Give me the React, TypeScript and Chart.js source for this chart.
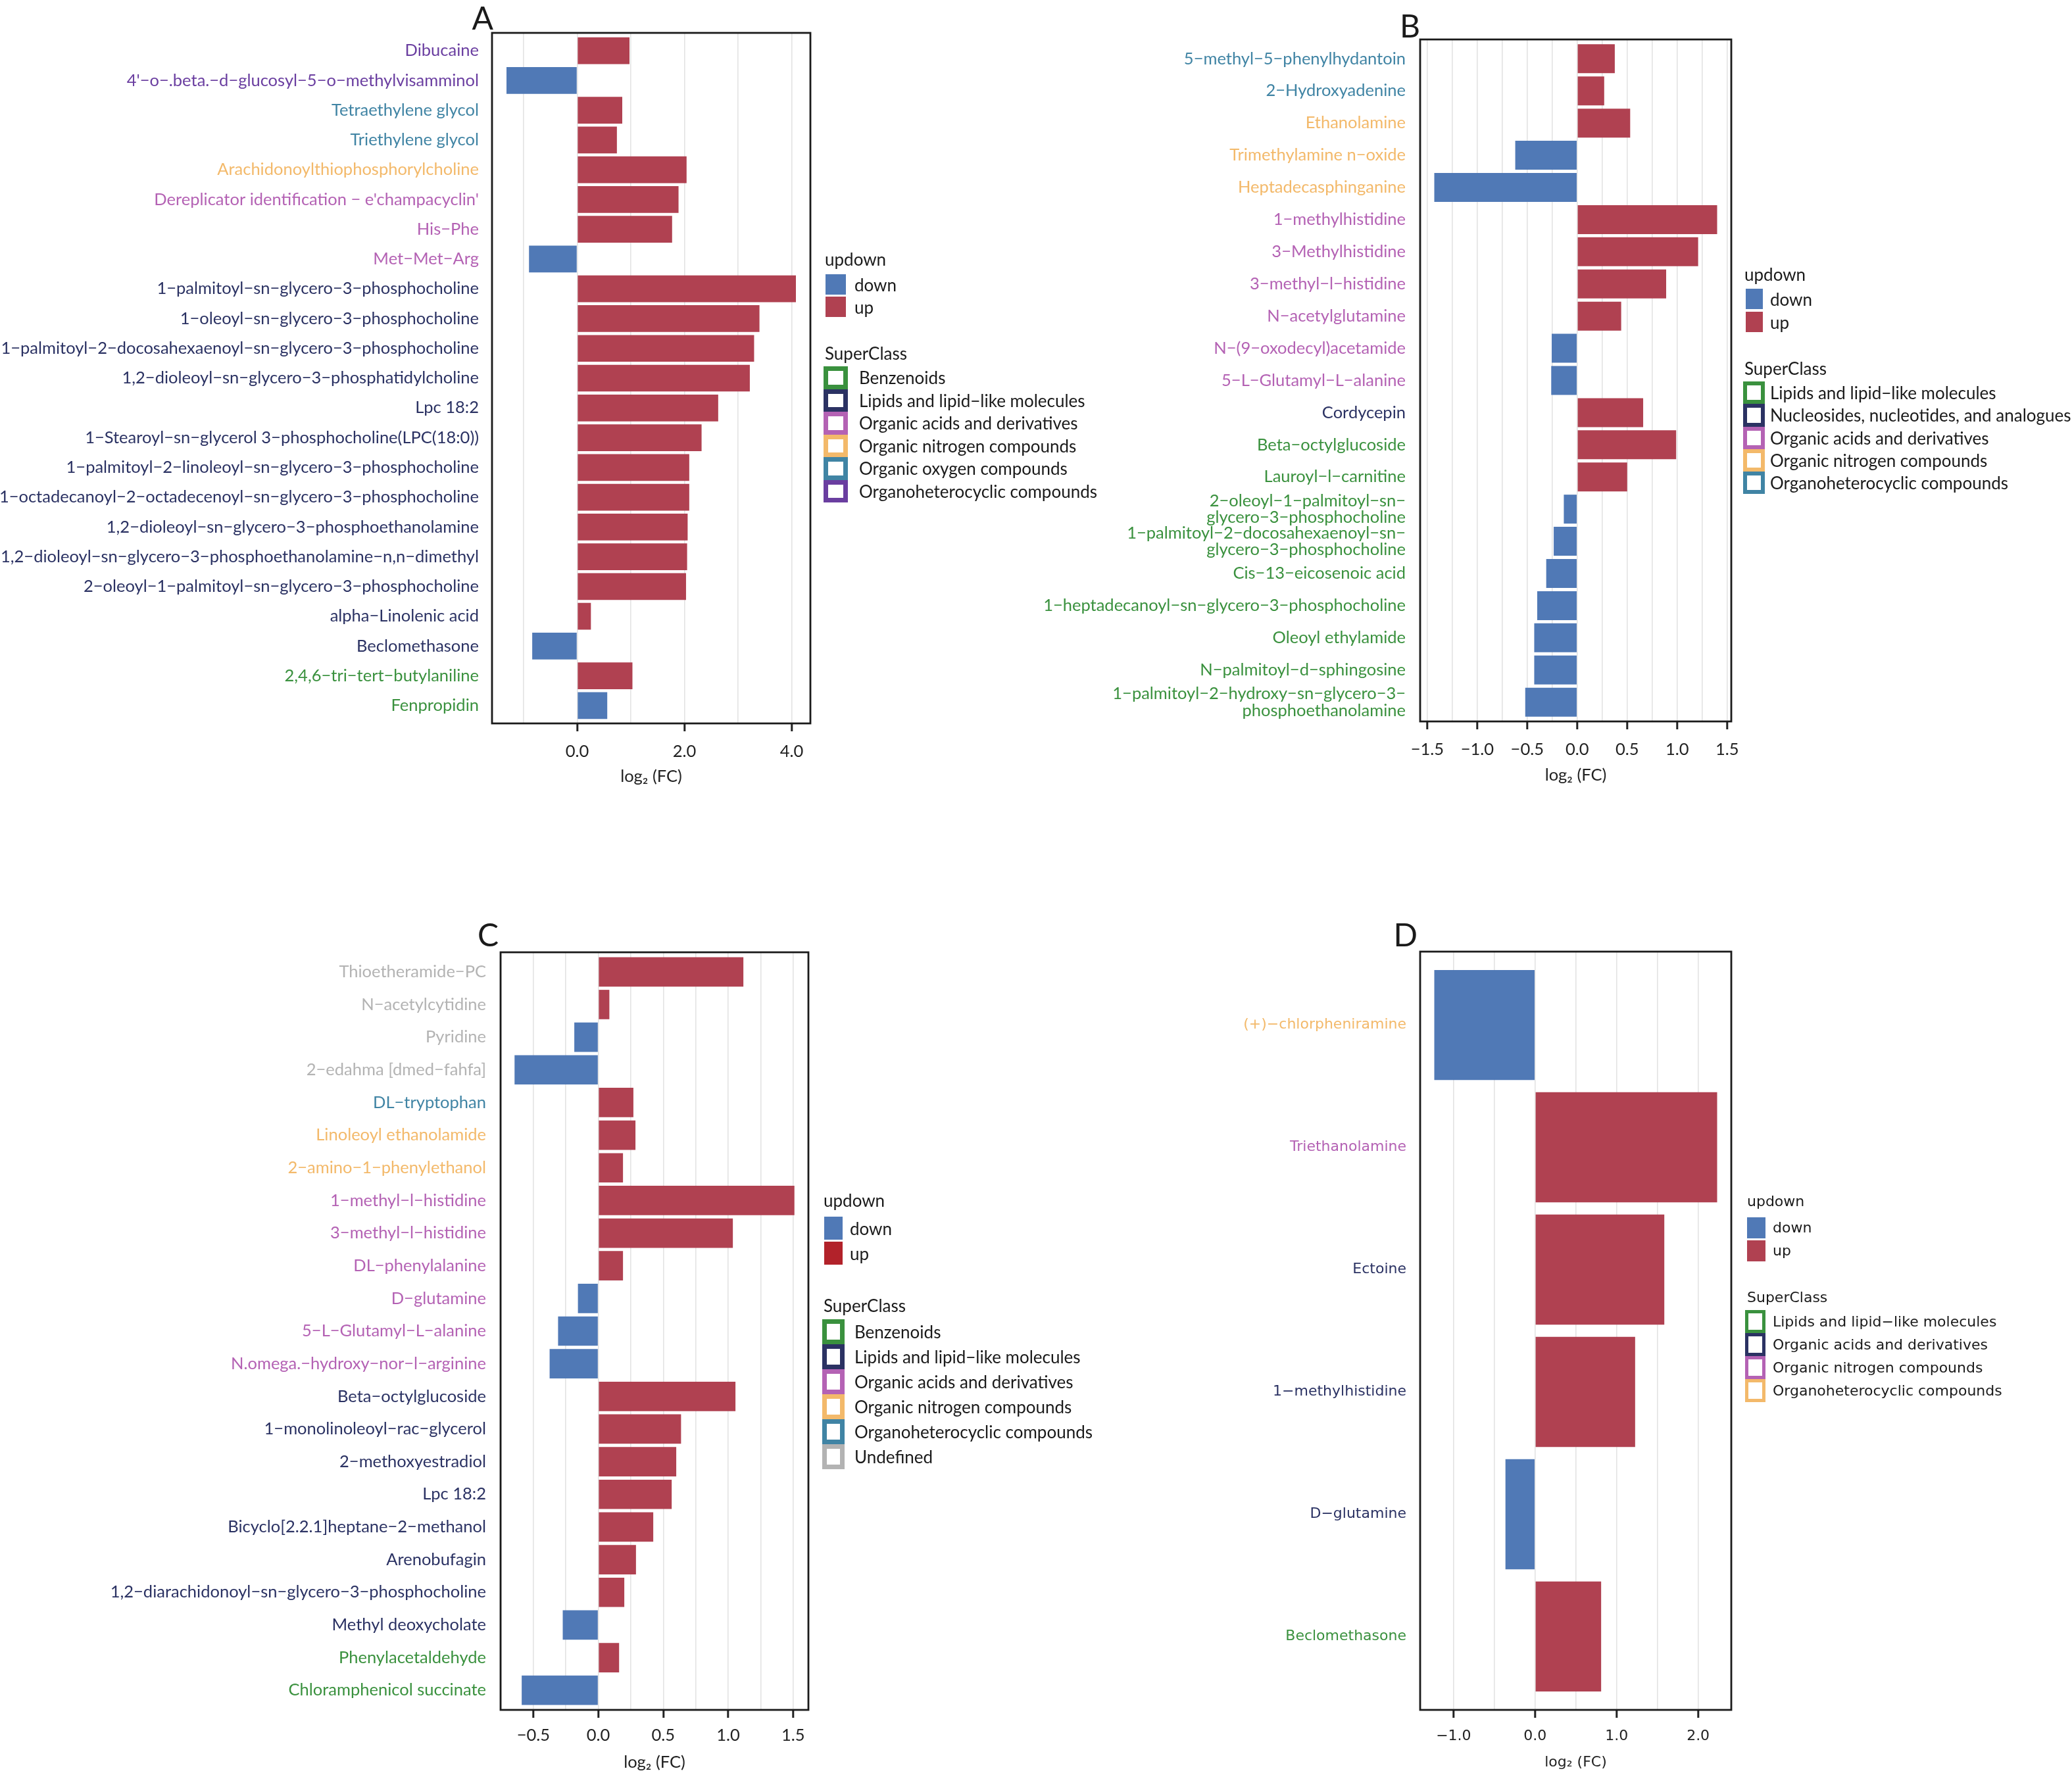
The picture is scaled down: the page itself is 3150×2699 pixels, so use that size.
import React, { useEffect, useRef } from "react";
import { Chart, registerables } from "chart.js";
Chart.register(...registerables);

const UP = "#B04151";
const DOWN = "#5079B6";
const UP_C = "#B2222A";
const GREEN = "#3A913E";
const NAVY = "#2B3263";
const PINK = "#B462B4";
const ORANGE = "#F3B96A";
const TEAL = "#4084A4";
const PURPLE = "#6A3EA0";
const GRAY = "#B3B3B3";

const LATO = "Lato, 'Noto Sans', sans-serif";
const DEJAVU = "'DejaVu Sans', Verdana, sans-serif";

const classNames: Record<string, string> = {
  Benz: "Benzenoids",
  Lipid: "Lipids and lipid\u2212like molecules",
  Nucl: "Nucleosides, nucleotides, and analogues",
  Acid: "Organic acids and derivatives",
  Nitro: "Organic nitrogen compounds",
  Oxy: "Organic oxygen compounds",
  Het: "Organoheterocyclic compounds",
  Undef: "Undefined",
};

// ---------------- Panel A ----------------
const labelsA: (string | string[])[] = [
  "Dibucaine",
  "4'\u2212o\u2212.beta.\u2212d\u2212glucosyl\u22125\u2212o\u2212methylvisamminol",
  "Tetraethylene glycol",
  "Triethylene glycol",
  "Arachidonoylthiophosphorylcholine",
  "Dereplicator identification \u2212 e'champacyclin'",
  "His\u2212Phe",
  "Met\u2212Met\u2212Arg",
  "1\u2212palmitoyl\u2212sn\u2212glycero\u22123\u2212phosphocholine",
  "1\u2212oleoyl\u2212sn\u2212glycero\u22123\u2212phosphocholine",
  "1\u2212palmitoyl\u22122\u2212docosahexaenoyl\u2212sn\u2212glycero\u22123\u2212phosphocholine",
  "1,2\u2212dioleoyl\u2212sn\u2212glycero\u22123\u2212phosphatidylcholine",
  "Lpc 18:2",
  "1\u2212Stearoyl\u2212sn\u2212glycerol 3\u2212phosphocholine(LPC(18:0))",
  "1\u2212palmitoyl\u22122\u2212linoleoyl\u2212sn\u2212glycero\u22123\u2212phosphocholine",
  "1\u2212octadecanoyl\u22122\u2212octadecenoyl\u2212sn\u2212glycero\u22123\u2212phosphocholine",
  "1,2\u2212dioleoyl\u2212sn\u2212glycero\u22123\u2212phosphoethanolamine",
  "1,2\u2212dioleoyl\u2212sn\u2212glycero\u22123\u2212phosphoethanolamine\u2212n,n\u2212dimethyl",
  "2\u2212oleoyl\u22121\u2212palmitoyl\u2212sn\u2212glycero\u22123\u2212phosphocholine",
  "alpha\u2212Linolenic acid",
  "Beclomethasone",
  "2,4,6\u2212tri\u2212tert\u2212butylaniline",
  "Fenpropidin",
];
const valuesA = [0.975, -1.32, 0.84, 0.74, 2.04, 1.89, 1.77, -0.9, 4.08, 3.4, 3.3, 3.22, 2.63, 2.32, 2.09, 2.09, 2.06, 2.05, 2.03, 0.255, -0.84, 1.03, 0.56];
const updownA = ["up", "down", "up", "up", "up", "up", "up", "down", "up", "up", "up", "up", "up", "up", "up", "up", "up", "up", "up", "up", "down", "up", "down"];
const classA = ["Het", "Het", "Oxy", "Oxy", "Nitro", "Acid", "Acid", "Acid", "Lipid", "Lipid", "Lipid", "Lipid", "Lipid", "Lipid", "Lipid", "Lipid", "Lipid", "Lipid", "Lipid", "Lipid", "Lipid", "Benz", "Benz"];
const xTicksA = [0, 2, 4];
const legendOrderA = ["Benz", "Lipid", "Acid", "Nitro", "Oxy", "Het"];

// ---------------- Panel B ----------------
const labelsB: (string | string[])[] = [
  "5\u2212methyl\u22125\u2212phenylhydantoin",
  "2\u2212Hydroxyadenine",
  "Ethanolamine",
  "Trimethylamine n\u2212oxide",
  "Heptadecasphinganine",
  "1\u2212methylhistidine",
  "3\u2212Methylhistidine",
  "3\u2212methyl\u2212l\u2212histidine",
  "N\u2212acetylglutamine",
  "N\u2212(9\u2212oxodecyl)acetamide",
  "5\u2212L\u2212Glutamyl\u2212L\u2212alanine",
  "Cordycepin",
  "Beta\u2212octylglucoside",
  "Lauroyl\u2212l\u2212carnitine",
  ["2\u2212oleoyl\u22121\u2212palmitoyl\u2212sn\u2212", "glycero\u22123\u2212phosphocholine"],
  ["1\u2212palmitoyl\u22122\u2212docosahexaenoyl\u2212sn\u2212", "glycero\u22123\u2212phosphocholine"],
  "Cis\u221213\u2212eicosenoic acid",
  "1\u2212heptadecanoyl\u2212sn\u2212glycero\u22123\u2212phosphocholine",
  "Oleoyl ethylamide",
  "N\u2212palmitoyl\u2212d\u2212sphingosine",
  ["1\u2212palmitoyl\u22122\u2212hydroxy\u2212sn\u2212glycero\u22123\u2212", "phosphoethanolamine"],
];
const valuesB = [0.376, 0.27, 0.53, -0.62, -1.43, 1.4, 1.21, 0.89, 0.44, -0.255, -0.26, 0.66, 0.99, 0.5, -0.134, -0.235, -0.31, -0.4, -0.43, -0.43, -0.52];
const updownB = ["up", "up", "up", "down", "down", "up", "up", "up", "up", "down", "down", "up", "up", "up", "down", "down", "down", "down", "down", "down", "down"];
const classB = ["Het", "Het", "Nitro", "Nitro", "Nitro", "Acid", "Acid", "Acid", "Acid", "Acid", "Acid", "Nucl", "Lipid", "Lipid", "Lipid", "Lipid", "Lipid", "Lipid", "Lipid", "Lipid", "Lipid"];
const xTicksB = [-1.5, -1.0, -0.5, 0, 0.5, 1.0, 1.5];
const legendOrderB = ["Lipid", "Nucl", "Acid", "Nitro", "Het"];

// ---------------- Panel C ----------------
const labelsC: (string | string[])[] = [
  "Thioetheramide\u2212PC",
  "N\u2212acetylcytidine",
  "Pyridine",
  "2\u2212edahma [dmed\u2212fahfa]",
  "DL\u2212tryptophan",
  "Linoleoyl ethanolamide",
  "2\u2212amino\u22121\u2212phenylethanol",
  "1\u2212methyl\u2212l\u2212histidine",
  "3\u2212methyl\u2212l\u2212histidine",
  "DL\u2212phenylalanine",
  "D\u2212glutamine",
  "5\u2212L\u2212Glutamyl\u2212L\u2212alanine",
  "N.omega.\u2212hydroxy\u2212nor\u2212l\u2212arginine",
  "Beta\u2212octylglucoside",
  "1\u2212monolinoleoyl\u2212rac\u2212glycerol",
  "2\u2212methoxyestradiol",
  "Lpc 18:2",
  "Bicyclo[2.2.1]heptane\u22122\u2212methanol",
  "Arenobufagin",
  "1,2\u2212diarachidonoyl\u2212sn\u2212glycero\u22123\u2212phosphocholine",
  "Methyl deoxycholate",
  "Phenylacetaldehyde",
  "Chloramphenicol succinate",
];
const valuesC = [1.117, 0.085, -0.185, -0.645, 0.27, 0.286, 0.19, 1.51, 1.036, 0.19, -0.157, -0.31, -0.375, 1.056, 0.637, 0.6, 0.565, 0.423, 0.29, 0.2, -0.274, 0.16, -0.59];
const updownC = ["up", "up", "down", "down", "up", "up", "up", "up", "up", "up", "down", "down", "down", "up", "up", "up", "up", "up", "up", "up", "down", "up", "down"];
const classC = ["Undef", "Undef", "Undef", "Undef", "Het", "Nitro", "Nitro", "Acid", "Acid", "Acid", "Acid", "Acid", "Acid", "Lipid", "Lipid", "Lipid", "Lipid", "Lipid", "Lipid", "Lipid", "Lipid", "Benz", "Benz"];
const xTicksC = [-0.5, 0, 0.5, 1.0, 1.5];
const legendOrderC = ["Benz", "Lipid", "Acid", "Nitro", "Het", "Undef"];

// ---------------- Panel D ----------------
const labelsD: (string | string[])[] = [
  "(+)\u2212chlorpheniramine",
  "Triethanolamine",
  "Ectoine",
  "1\u2212methylhistidine",
  "D\u2212glutamine",
  "Beclomethasone",
];
const valuesD = [-1.237, 2.233, 1.585, 1.227, -0.364, 0.81];
const updownD = ["down", "up", "up", "up", "down", "up"];
const classD = ["Het", "Nitro", "Acid", "Acid", "Acid", "Lipid"];
const xTicksD = [-1.0, 0, 1.0, 2.0];
const legendOrderD = ["Lipid", "Acid", "Nitro", "Het"];

// ---------------- styling / layout ----------------
type PanelCfg = {
  labels: (string | string[])[];
  values: number[];
  updown: string[];
  classes: string[];
  xTicks: number[];
  gridStep: number;
  palette: Record<string, string>;
  letter: string;
  letterDx: number;
  letterGap: number;
  x: number; y: number; w: number; h: number;
  boxLeft: number; boxTop: number; boxRight: number; boxBottom: number;
  font: string; size: number; lineHeight: number;
  labelPad: number; tickPad: number; titlePad: number;
};

const paletteA = { Benz: GREEN, Lipid: NAVY, Acid: PINK, Nitro: ORANGE, Oxy: TEAL, Het: PURPLE };
const paletteB = { Lipid: GREEN, Nucl: NAVY, Acid: PINK, Nitro: ORANGE, Het: TEAL };
const paletteC = { Benz: GREEN, Lipid: NAVY, Acid: PINK, Nitro: ORANGE, Het: TEAL, Undef: GRAY };
const paletteD = { Lipid: GREEN, Acid: NAVY, Nitro: PINK, Het: ORANGE };

const panels: PanelCfg[] = [
  {
    labels: labelsA, values: valuesA, updown: updownA, classes: classA, xTicks: xTicksA, gridStep: 1,
    palette: paletteA, letter: "A", letterDx: 2, letterGap: 5,
    x: 0, y: 0, w: 1272, h: 1210, boxLeft: 748, boxTop: 50, boxRight: 1232, boxBottom: 1100,
    font: LATO, size: 25.5, lineHeight: 1.2, labelPad: 20, tickPad: 15.6, titlePad: 13.6,
  },
  {
    labels: labelsB, values: valuesB, updown: updownB, classes: classB, xTicks: xTicksB, gridStep: 0.25,
    palette: paletteB, letter: "B", letterDx: 0, letterGap: 3,
    x: 1560, y: 0, w: 1112, h: 1210, boxLeft: 2159, boxTop: 60, boxRight: 2632, boxBottom: 1097,
    font: LATO, size: 25.5, lineHeight: 1.0, labelPad: 22, tickPad: 15.6, titlePad: 15.6,
  },
  {
    labels: labelsC, values: valuesC, updown: updownC, classes: classC, xTicks: xTicksC, gridStep: 0.25,
    palette: paletteC, letter: "C", letterDx: -3, letterGap: 9,
    x: 0, y: 1390, w: 1269, h: 1309, boxLeft: 761, boxTop: 1448, boxRight: 1229, boxBottom: 2600,
    font: LATO, size: 25.5, lineHeight: 1.2, labelPad: 22, tickPad: 11.6, titlePad: 3.6,
  },
  {
    labels: labelsD, values: valuesD, updown: updownD, classes: classD, xTicks: xTicksD, gridStep: 0.5,
    palette: paletteD, letter: "D", letterDx: -4, letterGap: 8,
    x: 1560, y: 1390, w: 1112, h: 1309, boxLeft: 2159, boxTop: 1447, boxRight: 2632, boxBottom: 2600,
    font: DEJAVU, size: 22, lineHeight: 1.2, labelPad: 21, tickPad: 14.8, titlePad: 5.8,
  },
];

const fmt = (v: number) => (v < 0 ? "\u2212" : "") + Math.abs(v).toFixed(1);

const boxPlugin = {
  id: "panelBox",
  afterDraw(chart: any, _args: any, opts: any) {
    const { ctx, chartArea: a } = chart;
    ctx.save();
    ctx.strokeStyle = "#1A1A1A";
    ctx.lineWidth = 2.8;
    ctx.strokeRect(a.left, a.top, a.right - a.left, a.bottom - a.top);
    ctx.fillStyle = "#1A1A1A";
    ctx.font = `48px ${LATO}`;
    ctx.textAlign = "right";
    ctx.textBaseline = "alphabetic";
    ctx.fillText(opts.letter, a.left + opts.dx, a.top - opts.gap);
    ctx.restore();
  },
};

function makeChart(canvas: HTMLCanvasElement, p: PanelCfg) {
  const n = p.labels.length;
  const lo = Math.min(0, ...p.values);
  const hi = Math.max(0, ...p.values);
  const ex = (hi - lo) * 0.05;
  const xmin = lo - ex;
  const xmax = hi + ex;
  const isMajor = (v: number) => v !== undefined && p.xTicks.some((t) => Math.abs(t - v) < 1e-6);
  const data = p.values.map((v, i) => ({ x: v, y: i + 1 }));
  return new Chart(canvas, {
    type: "bar",
    data: {
      datasets: [
        {
          data,
          backgroundColor: p.updown.map((u) => (u === "up" ? UP : DOWN)),
          borderWidth: 0,
          barPercentage: 0.9,
          categoryPercentage: 1,
        } as any,
      ],
    },
    options: {
      indexAxis: "y",
      responsive: false,
      animation: false,
      layout: { padding: { top: p.boxTop - p.y, right: p.x + p.w - p.boxRight, left: 0, bottom: 0 } },
      plugins: {
        legend: { display: false },
        tooltip: { enabled: false },
        panelBox: { letter: p.letter, dx: p.letterDx, gap: p.letterGap },
      } as any,
      scales: {
        x: {
          type: "linear",
          position: "bottom",
          min: xmin,
          max: xmax,
          offset: false,
          afterBuildTicks: (s: any) => {
            const t: any[] = [];
            const st = p.gridStep;
            for (let k = Math.ceil(xmin / st - 1e-9); k * st <= xmax + 1e-9; k++) {
              t.push({ value: +(k * st).toFixed(6) });
            }
            s.ticks = t;
          },
          afterFit: (s: any) => {
            s.height = p.y + p.h - p.boxBottom;
          },
          ticks: {
            autoSkip: false,
            maxRotation: 0,
            padding: p.tickPad,
            color: "#222",
            font: { family: p.font, size: p.size },
            callback: (v: any) => (isMajor(Number(v)) ? fmt(Number(v)) : ""),
          },
          grid: {
            color: "#E3E3E3",
            lineWidth: 1.6,
            tickLength: 12,
            tickWidth: 3,
            offset: false,
            tickColor: (c: any) => (c.tick && isMajor(c.tick.value) ? "#222" : "rgba(0,0,0,0)"),
          },
          border: { display: false },
          title: {
            display: true,
            text: "log\u2082 (FC)",
            color: "#222",
            font: { family: p.font, size: p.size },
            padding: { top: 0, bottom: p.titlePad },
          },
        },
        y: {
          type: "linear",
          reverse: true,
          offset: false,
          min: 0.4,
          max: n + 0.6,
          afterBuildTicks: (s: any) => {
            s.ticks = p.labels.map((_, i) => ({ value: i + 1 }));
          },
          afterFit: (s: any) => {
            s.width = p.boxLeft - p.x;
          },
          ticks: {
            autoSkip: false,
            padding: p.labelPad,
            color: (c: any) => p.palette[p.classes[Math.round(c.tick.value) - 1]],
            font: { family: p.font, size: p.size, lineHeight: p.lineHeight },
            callback: (v: any) => p.labels[Math.round(Number(v)) - 1] as any,
          },
          grid: { display: false, drawTicks: false, offset: false },
          border: { display: false },
        },
      },
    } as any,
    plugins: [boxPlugin],
  });
}

function Panel({ p }: { p: PanelCfg }) {
  const ref = useRef<HTMLCanvasElement>(null);
  useEffect(() => {
    let chart: Chart | null = null;
    let dead = false;
    const go = () => {
      if (dead || !ref.current) return;
      chart = makeChart(ref.current, p);
    };
    const fonts = (document as any).fonts;
    if (fonts && fonts.load) {
      Promise.all([fonts.load("26px Lato"), fonts.load('22px "DejaVu Sans"'), fonts.load("48px Lato")]).then(go, go);
    } else go();
    return () => {
      dead = true;
      if (chart) chart.destroy();
    };
  }, []);
  return (
    <canvas
      ref={ref}
      width={p.w}
      height={p.h}
      style={{ position: "absolute", left: p.x, top: p.y, width: p.w, height: p.h }}
    />
  );
}

type LegendCfg = {
  font: string; size: number; lh: number;
  titleX: number; udTitleY: number;
  udX: number; udTop: number; udStep: number; udW: number; udH: number; udTextX: number;
  scTitleY: number; scX: number; scTop: number; scStep: number; scW: number; scBorder: number; scTextX: number;
  upColor: string; downColor: string;
  order: string[]; palette: Record<string, string>;
};

const legends: LegendCfg[] = [
  {
    font: LATO, size: 26, lh: 30, titleX: 1254, udTitleY: 394,
    udX: 1255, udTop: 417, udStep: 34, udW: 31, udH: 31, udTextX: 1299,
    scTitleY: 537, scX: 1252, scTop: 557, scStep: 34.5, scW: 37, scBorder: 7, scTextX: 1306,
    upColor: UP, downColor: DOWN, order: legendOrderA, palette: paletteA,
  },
  {
    font: LATO, size: 26, lh: 30, titleX: 2652, udTitleY: 417,
    udX: 2654, udTop: 439, udStep: 35, udW: 26, udH: 31, udTextX: 2691,
    scTitleY: 560, scX: 2650, scTop: 580, scStep: 34.3, scW: 33, scBorder: 6, scTextX: 2691,
    upColor: UP, downColor: DOWN, order: legendOrderB, palette: paletteB,
  },
  {
    font: LATO, size: 26, lh: 30, titleX: 1252, udTitleY: 1825,
    udX: 1253, udTop: 1850, udStep: 38, udW: 28, udH: 35, udTextX: 1292,
    scTitleY: 1985, scX: 1250, scTop: 2006, scStep: 38, scW: 34, scBorder: 7, scTextX: 1299,
    upColor: UP_C, downColor: DOWN, order: legendOrderC, palette: paletteC,
  },
  {
    font: DEJAVU, size: 22, lh: 26, titleX: 2656, udTitleY: 1827,
    udX: 2656, udTop: 1851, udStep: 35, udW: 28, udH: 32, udTextX: 2695,
    scTitleY: 1973, scX: 2653, scTop: 1992, scStep: 35, scW: 31, scBorder: 5, scTextX: 2695,
    upColor: UP, downColor: DOWN, order: legendOrderD, palette: paletteD,
  },
];

function Legend({ c }: { c: LegendCfg }) {
  const txt = (left: number, cy: number, s: string, key: string) => (
    <div
      key={key}
      style={{
        position: "absolute", left, top: cy - c.lh / 2, height: c.lh, lineHeight: `${c.lh}px`,
        fontFamily: c.font, fontSize: c.size, color: "#1A1A1A", whiteSpace: "nowrap",
      }}
    >
      {s}
    </div>
  );
  const els: React.ReactNode[] = [];
  els.push(txt(c.titleX, c.udTitleY, "updown", "t1"));
  ["down", "up"].forEach((k, i) => {
    const top = c.udTop + i * c.udStep;
    els.push(
      <div key={"b" + k} style={{ position: "absolute", left: c.udX, top, width: c.udW, height: c.udH, background: k === "up" ? c.upColor : c.downColor }} />
    );
    els.push(txt(c.udTextX, top + c.udH / 2, k, "l" + k));
  });
  els.push(txt(c.titleX, c.scTitleY, "SuperClass", "t2"));
  c.order.forEach((k, i) => {
    const top = c.scTop + i * c.scStep;
    els.push(
      <div
        key={"s" + k}
        style={{
          position: "absolute", left: c.scX, top, width: c.scW, height: c.scStep, boxSizing: "border-box",
          border: `${c.scBorder}px solid ${c.palette[k]}`, background: "#fff",
        }}
      />
    );
    els.push(txt(c.scTextX, top + c.scStep / 2, classNames[k], "n" + k));
  });
  return <>{els}</>;
}

export default function App() {
  return (
    <div style={{ position: "absolute", left: 0, top: 0, width: 3150, height: 2699, overflow: "hidden", background: "#fff" }}>
      {panels.map((p, i) => (
        <Panel key={i} p={p} />
      ))}
      {legends.map((c, i) => (
        <Legend key={i} c={c} />
      ))}
    </div>
  );
}
